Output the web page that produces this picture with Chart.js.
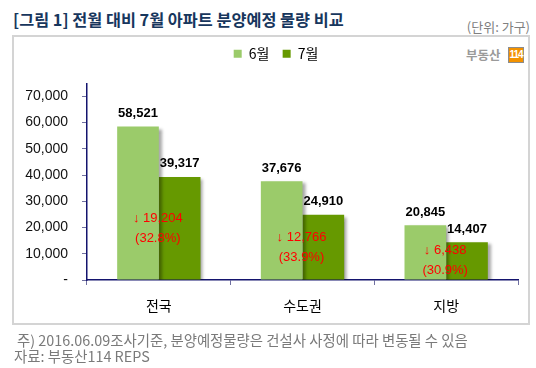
<!DOCTYPE html>
<html><head><meta charset="utf-8">
<script src="https://cdn.jsdelivr.net/npm/chart.js@4.4.0/dist/chart.umd.min.js"></script>
<style>
html,body{margin:0;padding:0;background:#fff;}
#wrap{position:relative;width:536px;height:368px;overflow:hidden;font-family:'Liberation Sans','Noto Sans CJK KR',sans-serif;}
.abs{position:absolute;white-space:nowrap;}
#title{left:13px;top:9px;font-size:16.3px;font-weight:bold;color:#17365D;line-height:20px;font-family:'Noto Sans CJK KR',sans-serif;}
#unit{right:6px;top:18px;font-size:13px;color:#808080;line-height:18px;font-family:'Noto Sans CJK KR',sans-serif;}
#frame{left:12px;top:35px;width:518px;height:290px;box-sizing:border-box;border:2px solid #D4D4D4;}
#logoTxt{left:466px;top:46px;font-size:12.5px;font-weight:bold;color:#9a9a9a;line-height:18px;font-family:'Noto Sans CJK KR',sans-serif;}
#logoBox{left:508px;top:47px;width:16px;height:16px;box-sizing:border-box;background:#F39200;border:1px solid #8c8c8c;color:#fff;font-size:10px;font-weight:bold;line-height:14px;text-align:center;letter-spacing:-1px;font-family:'Liberation Sans Narrow','Liberation Sans',sans-serif;}
.note{font-size:14.4px;color:#7a7a7a;line-height:16px;font-family:'Noto Sans CJK KR',sans-serif;}
#c{position:absolute;left:0;top:0;}
</style></head>
<body>
<div id="wrap">
  <div id="frame" class="abs"></div>
  <div id="title" class="abs">[그림 1] 전월 대비 7월 아파트 분양예정 물량 비교</div>
  <div id="unit" class="abs">(단위: 가구)</div>
  <div id="logoTxt" class="abs">부동산</div>
  <div id="logoBox" class="abs">114</div>
  <canvas id="c" width="536" height="368"></canvas>
  <div class="abs note" style="left:17px;top:332px;">주) 2016.06.09조사기준, 분양예정물량은 건설사 사정에 따라 변동될 수 있음</div>
  <div class="abs note" style="left:14px;top:348px;">자료: 부동산114 REPS</div>
</div>
<script>
// ---- data ----
const categories = ['전국', '수도권', '지방'];
const seriesNames = ['6월', '7월'];
const juneValues = [58521, 37676, 20845];
const julyValues = [39317, 24910, 14407];
const yTickValues = [0, 10000, 20000, 30000, 40000, 50000, 60000, 70000];
const yAxisMax = 75000;

const fmt = v => v.toLocaleString('en-US');
const AXIS = '#14146e';
const LEGEND_SHIFT = 11;

const extrasPlugin = {
  id: 'extras',
  afterInit(chart) {
    const lg = chart.legend;
    if (lg) {
      const f = lg.fit;
      lg.fit = function () { f.call(this); this.height += 12.5; };
      const d = lg.draw;
      lg.draw = function () {
        this.left += LEGEND_SHIFT; this.right += LEGEND_SHIFT;
        d.call(this);
        this.left -= LEGEND_SHIFT; this.right -= LEGEND_SHIFT;
      };
    }
  },
  beforeDatasetsDraw(chart) {
    const ctx = chart.ctx;
    ctx.save();
    ctx.shadowColor = 'rgba(0,0,0,0.35)';
    ctx.shadowOffsetX = 3;
    ctx.shadowOffsetY = 2;
    ctx.shadowBlur = 3;
  },
  afterDatasetsDraw(chart) {
    const ctx = chart.ctx;
    ctx.restore();
    ctx.save();
    ctx.textAlign = 'center';
    ctx.textBaseline = 'middle';
    ctx.fillStyle = '#000';
    ctx.font = "bold 13px 'Liberation Sans', sans-serif";
    chart.data.datasets.forEach((ds, di) => {
      chart.getDatasetMeta(di).data.forEach((el, i) => {
        ctx.fillText(fmt(ds.data[i]), el.x, el.y - 13);
      });
    });
    // change annotation
    const xs = chart.scales.x;
    const julyMeta = chart.getDatasetMeta(1);
    ctx.fillStyle = '#FF0000';
    ctx.font = "13px 'Liberation Sans', 'DejaVu Sans', sans-serif";
    categories.forEach((c, i) => {
      const diff = juneValues[i] - julyValues[i];
      const pct = diff / juneValues[i] * 100;
      const el = julyMeta.data[i];
      const mid = (el.y + el.base) / 2;
      const cx = xs.getPixelForValue(i) - 1;
      ctx.fillText('\u2193 ' + fmt(diff), cx, mid - 10);
      ctx.fillText('(' + pct.toFixed(1) + '%)', cx, mid + 10);
    });
    ctx.restore();
  }
};

new Chart(document.getElementById('c'), {
  type: 'bar',
  data: {
    labels: categories,
    datasets: [
      { label: seriesNames[0], data: juneValues, backgroundColor: '#9BCB6A', borderWidth: 0 },
      { label: seriesNames[1], data: julyValues, backgroundColor: '#669900', borderWidth: 0 }
    ]
  },
  options: {
    responsive: false,
    animation: false,
    devicePixelRatio: 1,
    layout: { padding: { left: 12, right: 18, top: 33.5, bottom: 0 } },
    datasets: { bar: { categoryPercentage: 0.58, barPercentage: 1.0 } },
    plugins: {
      legend: {
        position: 'top',
        labels: {
          boxWidth: 8, boxHeight: 8, padding: 13.3, color: '#000',
          font: { family: "'Noto Sans CJK KR', sans-serif", size: 14 }
        }
      },
      tooltip: { enabled: false }
    },
    scales: {
      x: {
        grid: { display: true, drawOnChartArea: false, drawTicks: true, tickLength: 5, color: '#7070a0', offset: true },
        border: { display: true, color: AXIS, width: 1.5 },
        ticks: { color: '#000', padding: 12, font: { family: "'Noto Sans CJK KR', sans-serif", size: 14 } },
        afterFit: s => { s.height = 88; }
      },
      y: {
        min: 0, max: yAxisMax,
        afterBuildTicks: s => { s.ticks = yTickValues.map(v => ({ value: v })); },
        grid: { display: true, drawOnChartArea: false, drawTicks: true, tickLength: 5, color: '#7070a0' },
        border: { display: true, color: AXIS, width: 1.5 },
        ticks: {
          color: '#111', padding: 14,
          font: { family: "'Liberation Sans', sans-serif", size: 14 },
          callback: v => v === 0 ? '-' : fmt(v)
        },
        afterFit: s => { s.width = 75; }
      }
    }
  },
  plugins: [extrasPlugin]
});
</script>
</body></html>
